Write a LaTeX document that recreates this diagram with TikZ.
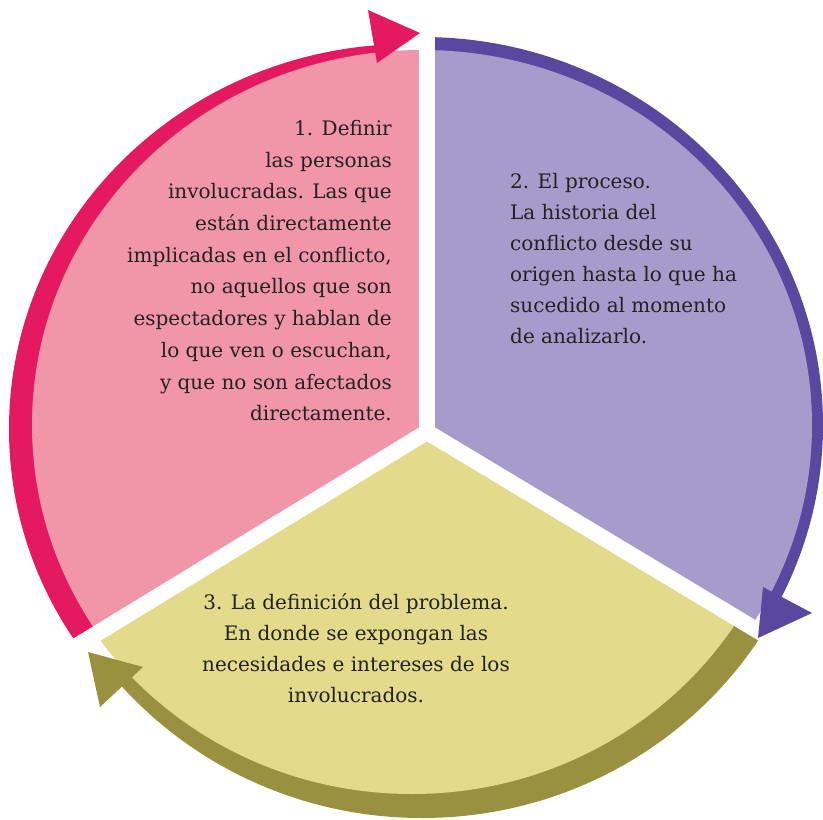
\documentclass[tikz,border=0pt]{standalone}
\usepackage{fontspec}
\setmainfont{DejaVu Serif}
\definecolor{pinkfill}{HTML}{F195A9}
\definecolor{pinkband}{HTML}{E5195F}
\definecolor{purpfill}{HTML}{A69CCB}
\definecolor{purpband}{HTML}{5848A0}
\definecolor{yelfill}{HTML}{E3DA8B}
\definecolor{oliveband}{HTML}{9A9140}
\definecolor{txt}{HTML}{222222}
\begin{document}
\begin{tikzpicture}[x=1pt,y=-1pt,
  txtstyle/.style={text=txt, inner sep=0pt},
  gapline/.style={white, line width=16pt, line cap=round}]
\useasboundingbox (0,0) rectangle (823,820);
\coordinate (V) at (427,432);
\coordinate (F) at (422,425);
\coordinate (Fo) at (409,429);
\coordinate (Fy) at (412,422);
% pink sector
\begin{scope}
  \clip (V) -- +(148.6:700) -- +(205.8:700) -- +(263:700) -- cycle;
  \fill[pinkband] (Fo) ellipse [x radius=400, y radius=385];
\end{scope}
\begin{scope}
  \clip (V) -- +(148.6:700) -- +(209.3:700) -- +(270:700) -- cycle;
  \fill[pinkfill] (F) ellipse [x radius=390, y radius=375];
\end{scope}
% purple sector
\begin{scope}
  \clip (V) -- +(-90:700) -- +(-32:700) -- +(26:700) -- cycle;
  \fill[purpband] (F) ellipse [x radius=401, y radius=388];
\end{scope}
\begin{scope}
  \clip (V) -- +(-90:700) -- +(-29.5:700) -- +(31:700) -- cycle;
  \fill[purpfill] (F) ellipse [x radius=390, y radius=375];
\end{scope}
% yellow sector
\begin{scope}
  \clip (V) -- +(31:700) -- +(86:700) -- +(141:700) -- cycle;
  \fill[oliveband] (F) ellipse [x radius=402, y radius=393];
\end{scope}
\begin{scope}
  \clip (V) -- +(31:700) -- +(89.8:700) -- +(148.6:700) -- cycle;
  \fill[yelfill] (Fy) ellipse [x radius=385, y radius=372];
\end{scope}
% white gaps
\draw[gapline] (V) -- +(-90:700);
\draw[gapline] (V) -- +(31:700);
\draw[gapline] (V) -- +(148.6:700);
% arrowheads
\coordinate (pA) at (420,33); \coordinate (pB) at (368,10); \coordinate (pC) at (377,63);
\fill[pinkband] (pA) -- (pB) -- (pC) -- cycle;
\coordinate (uA) at (758,638); \coordinate (uB) at (763,587); \coordinate (uC) at (812,613);
\fill[purpband] (uA) -- (uB) -- (uC) -- cycle;
\coordinate (oA) at (88,652); \coordinate (oB) at (100,707); \coordinate (oC) at (143,667);
\fill[oliveband] (oA) -- (oB) -- (oC) -- cycle;
% texts
\node[txtstyle, anchor=north east, align=right, font=\fontsize{20}{31.7}\selectfont] (t1) at (392,120)
  {1. Definir\\las personas\\involucradas. Las que\\están directamente\\implicadas en el conflicto,\\no aquellos que son\\espectadores y hablan de\\lo que ven o escuchan,\\y que no son afectados\\directamente.};
\node[txtstyle, anchor=north west, align=left, font=\fontsize{20}{31}\selectfont] (t2) at (510,173)
  {2. El proceso.\\La historia del\\conflicto desde su\\origen hasta lo que ha\\sucedido al momento\\de analizarlo.};
\node[txtstyle, anchor=north, align=center, font=\fontsize{20}{31}\selectfont] (t3) at (356,593)
  {3. La definición del problema.\\En donde se expongan las\\necesidades e intereses de los\\involucrados.};
\end{tikzpicture}
\end{document}
